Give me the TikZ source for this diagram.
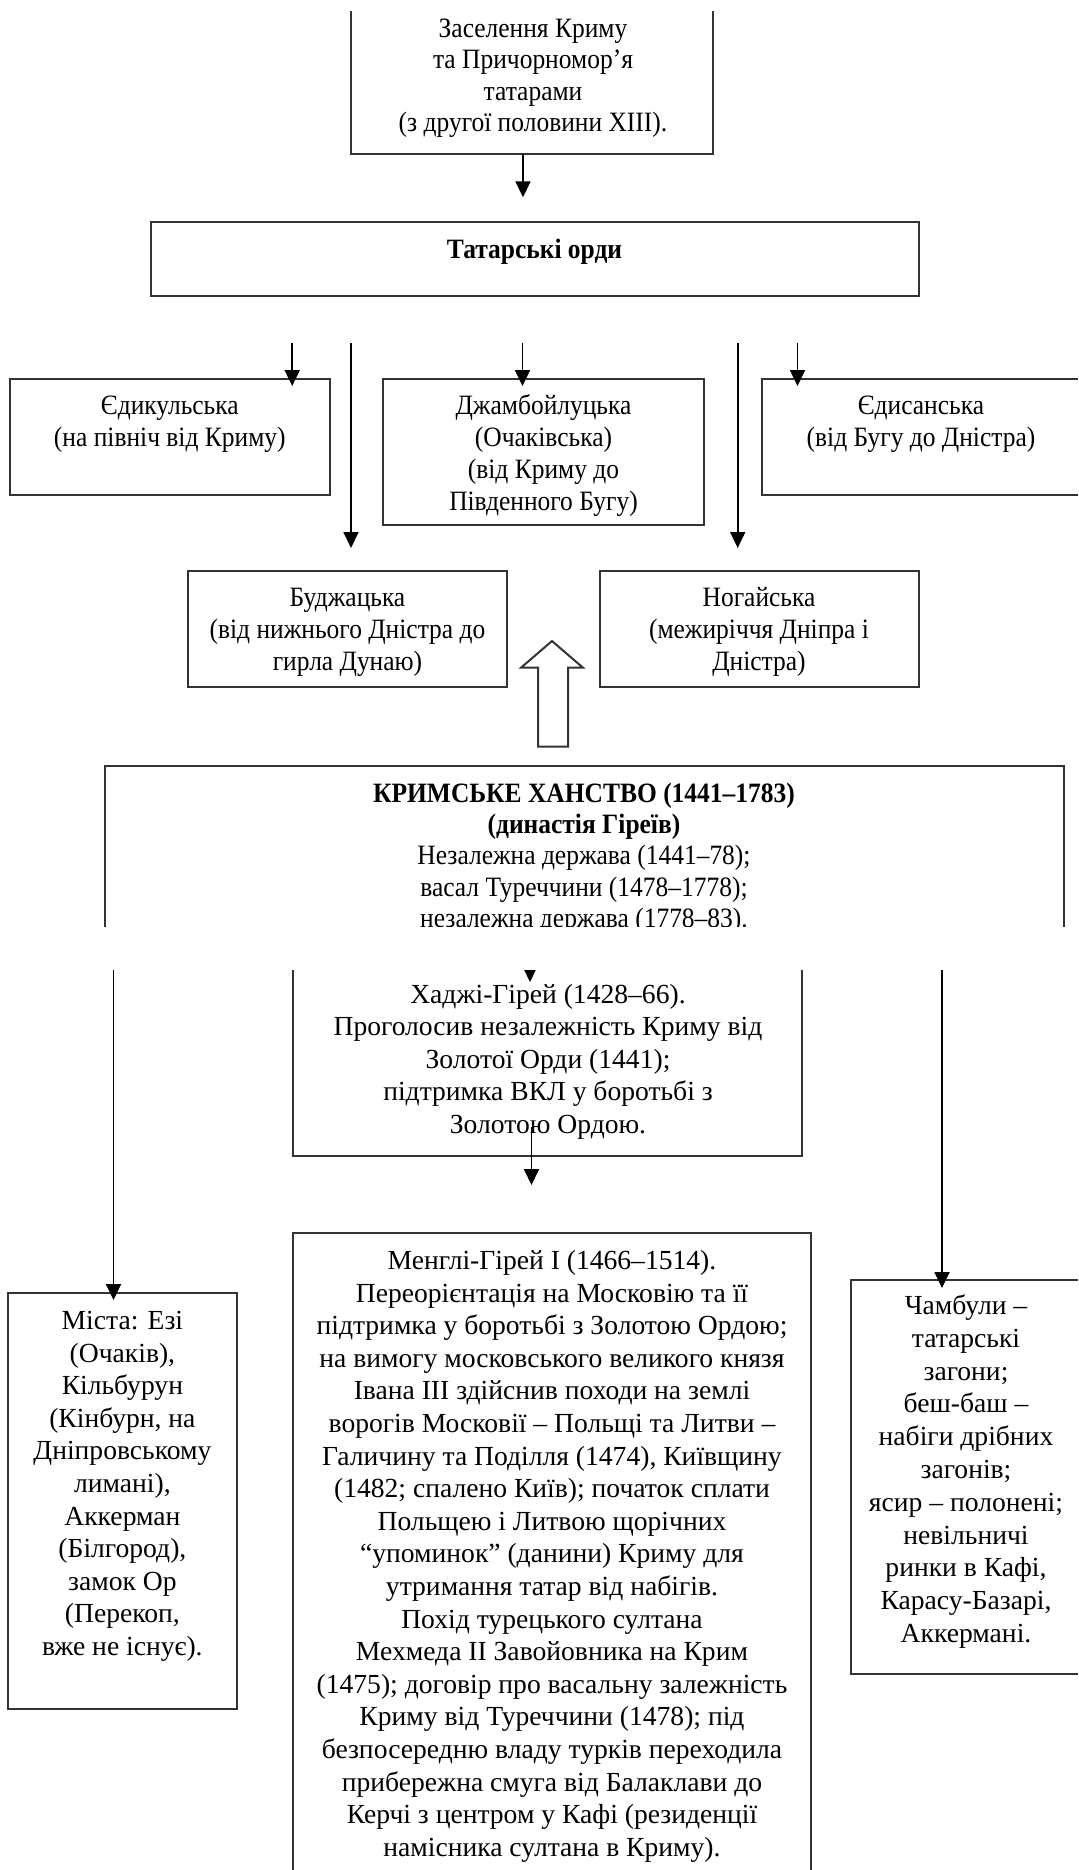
\documentclass[tikz,border=0pt]{standalone}
\usepackage{fontspec}
\setmainfont{Liberation Serif}
\newfontfamily\condserif[FakeStretch=0.91]{Liberation Serif}
\usetikzlibrary{fit,arrows.meta}
\begin{document}
\begin{tikzpicture}[x=0.5pt,y=-0.5pt,
  boxline/.style={draw=black!80, line width=1pt},
  frame/.style={inner sep=0pt, outer sep=0pt},
  txt/.style={align=center, inner sep=0pt, anchor=base, text=black},
  arr/.style={draw=black, line width=0.9pt, -{Triangle[length=8pt,width=7.5pt]}},
]
\useasboundingbox (0,0) rectangle (1078,1870);
% text nodes are placed at the baseline of their LAST line

% --- top box (open top)
\node[frame, fit={(351,11)(713.3,154.3)}] (zas) {};
\draw[boxline] (zas.north west) -- (zas.south west) -- (zas.south east) -- (zas.north east);
\node[txt, font=\condserif\fontsize{14}{15.75}\selectfont] (zast) at (533,131.8)
  {Заселення Криму\\та Причорномор’я\\татарами\\(з другої половини XIII).};
\coordinate (a0e) at (523,197.3);
\draw[arr] (zas.south -| a0e) -- (a0e);

% --- Tatar hordes
\node[frame, boxline, fit={(150.6,221.7)(918.5,296.2)}] (ordy) {};
\node[txt, font=\condserif\bfseries\fontsize{14}{16}\selectfont] (ordyt) at (534.5,258.3) {Татарські орди};

% --- first row
\node[frame, boxline, fit={(9.5,379.3)(330,495)}] (edk) {};
\node[txt, font=\condserif\fontsize{14}{16}\selectfont] (edkt) at (169.8,446.3) {Єдикульська\\(на північ від Криму)};
\node[frame, boxline, fit={(383,379.3)(704,525)}] (dzh) {};
\node[txt, font=\condserif\fontsize{14}{16}\selectfont] (dzht) at (543.5,510.3) {Джамбойлуцька\\(Очаківська)\\(від Криму до\\Південного Бугу)};
\node[frame, fit={(762,379.3)(1078,495)}] (eds) {};
\draw[boxline] (eds.north east) -- (eds.north west) -- (eds.south west) -- (eds.south east);
\node[txt, font=\condserif\fontsize{14}{16}\selectfont] (edst) at (921,446.3) {Єдисанська\\(від Бугу до Дністра)};

\coordinate (s1) at (292.2,343); \coordinate (e1) at (292.2,386);
\coordinate (s2) at (351,343);   \coordinate (e2) at (351,548);
\coordinate (s3) at (522.5,343); \coordinate (e3) at (522.5,386);
\coordinate (s4) at (737.7,343); \coordinate (e4) at (737.7,548);
\coordinate (s5) at (797.5,343); \coordinate (e5) at (797.5,386);
\foreach \i in {1,...,5} {\draw[arr] (s\i) -- (e\i);}

% --- second row
\node[frame, boxline, fit={(187.7,570.7)(507.4,686.7)}] (bud) {};
\node[txt, font=\condserif\fontsize{14}{16}\selectfont] (budt) at (347.5,670) {Буджацька\\(від нижнього Дністра до\\гирла Дунаю)};
\node[frame, boxline, fit={(599.5,570.7)(918.5,686.7)}] (nog) {};
\node[txt, font=\condserif\fontsize{14}{16}\selectfont] (nogt) at (759,670) {Ногайська\\(межиріччя Дніпра і\\Дністра)};

% --- hollow block arrow
\draw[boxline, fill=white, line join=miter] (552,641) -- (583,667.7) -- (568,667.7) -- (568,746.7)
  -- (538,746.7) -- (538,667.7) -- (521,667.7) -- cycle;

% --- Crimean Khanate (cut at bottom)
\node[frame, fit={(104.5,765.5)(1064,926.7)}] (khan) {};
\draw[boxline] (khan.south west) -- (khan.north west) -- (khan.north east) -- (khan.south east);
\begin{scope}
\clip (khan.north west) rectangle (khan.south east);
\node[txt, font=\condserif\fontsize{14}{15.65}\selectfont] (khant) at (584,927.5)
  {\textbf{КРИМСЬКЕ ХАНСТВО (1441–1783)}\\\textbf{(династія Гіреїв)}\\Незалежна держава (1441–78);\\васал Туреччини (1478–1778);\\незалежна держава (1778–83).};
\end{scope}

% --- continuation (arrow tip cut by the break)
\coordinate (hc1) at (530,955); \coordinate (hc2) at (530,982);
\begin{scope}
\clip (500,970) rectangle (560,990);
\draw[arr] (hc1) -- (hc2);
\end{scope}
\node[frame, fit={(292.7,970)(802.4,1155.7)}] (hadz) {};
\draw[boxline] (hadz.north west) -- (hadz.south west) -- (hadz.south east) -- (hadz.north east);
\node[txt, font=\fontsize{13.8}{16.25}\selectfont] (hadzt) at (548,1133.3)
  {Хаджі-Гірей (1428–66).\\Проголосив незалежність Криму від\\Золотої Орди (1441);\\підтримка ВКЛ у боротьбі з\\Золотою Ордою.};
\coordinate (h3) at (531.5,1127); \coordinate (h4) at (531.5,1185);
\draw[arr] (h3) -- (h4);

\node[frame, fit={(292.7,1233.3)(811.3,1870)}] (mengli) {};
\draw[boxline] (mengli.south west) -- (mengli.north west) -- (mengli.north east) -- (mengli.south east);
\node[txt, font=\fontsize{13.8}{16.3}\selectfont] (menglit) at (552,1856.3)
  {Менглі-Гірей I (1466–1514).\\
   Переорієнтація на Московію та її\\
   підтримка у боротьбі з Золотою Ордою;\\
   на вимогу московського великого князя\\
   Івана III здійснив походи на землі\\
   ворогів Московії – Польщі та Литви –\\
   Галичину та Поділля (1474), Київщину\\
   (1482; спалено Київ); початок сплати\\
   Польщею і Литвою щорічних\\
   “упоминок” (данини) Криму для\\
   утримання татар від набігів.\\
   Похід турецького султана\\
   Мехмеда II Завойовника на Крим\\
   (1475); договір про васальну залежність\\
   Криму від Туреччини (1478); під\\
   безпосередню владу турків переходила\\
   прибережна смуга від Балаклави до\\
   Керчі з центром у Кафі (резиденції\\
   намісника султана в Криму).};

\node[frame, boxline, fit={(8.3,1292.5)(236.5,1709)}] (mista) {};
\node[txt, font=\fontsize{13.8}{16.3}\selectfont] (mistat) at (122.4,1655.5)
  {Міста: Езі\\(Очаків),\\Кільбурун\\(Кінбурн, на\\Дніпровському\\лимані),\\Аккерман\\(Білгород),\\замок Ор\\(Перекоп,\\вже не існує).};
\coordinate (m1) at (113.5,970); \coordinate (m2) at (113.5,1300);
\draw[arr] (m1) -- (m2);

\node[frame, fit={(850.5,1280)(1078,1674)}] (cham) {};
\draw[boxline] (cham.north east) -- (cham.north west) -- (cham.south west) -- (cham.south east);
\node[txt, font=\fontsize{13.8}{16.4}\selectfont] (chamt) at (966,1642.5)
  {Чамбули –\\татарські\\загони;\\беш-баш –\\набіги дрібних\\загонів;\\ясир – полонені;\\невільничі\\ринки в Кафі,\\Карасу-Базарі,\\Аккермані.};
\coordinate (c1) at (942,970); \coordinate (c2) at (942,1288);
\draw[arr] (c1) -- (c2);
\end{tikzpicture}
\end{document}
